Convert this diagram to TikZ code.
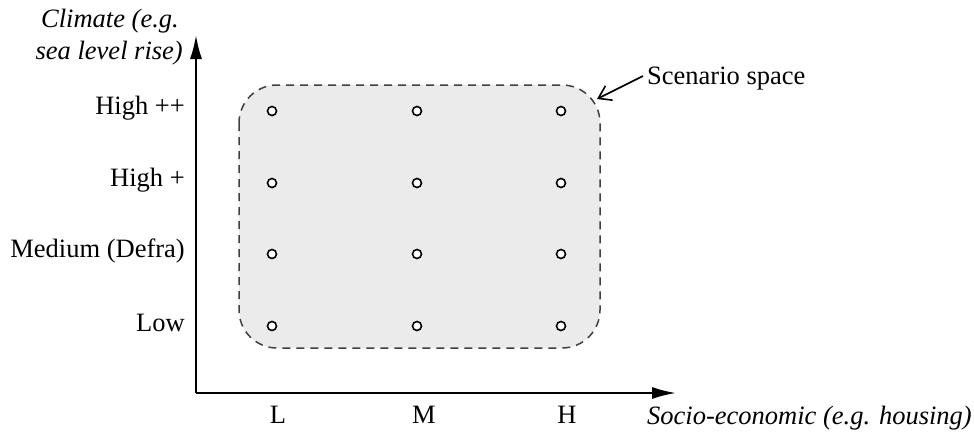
\documentclass[tikz,border=0pt]{standalone}
\usepackage{fontspec}
\setmainfont{Liberation Serif}
\usetikzlibrary{arrows.meta}
\begin{document}
\begin{tikzpicture}[x=1pt,y=-1pt,
  lbl/.style={font=\fontsize{26.5}{30}\selectfont, inner sep=0pt},
  ilbl/.style={font=\fontsize{26.5}{30}\selectfont\itshape, inner sep=0pt},
  axis/.style={line width=2pt, -{Latex[length=24pt,width=12pt]}},
  pt/.style={circle, draw, line width=1.6pt, fill=white, minimum size=9pt, inner sep=0pt},
  space/.style={draw=black!75, dash pattern=on 8pt off 6pt, line width=1.5pt, fill=black!8, rounded corners=38pt}]
\useasboundingbox (0,0) rectangle (974,432);
\coordinate (O) at (196,393);
\coordinate (Ytop) at (196,35);
\coordinate (Xend) at (676,393);
\draw[space] (239,85) rectangle (600,348);
\draw[axis] (O) -- (Ytop);
\draw[axis] (O) -- (Xend);
\foreach \x/\n in {272/L,417/M,561/H}{
  \foreach \y/\m in {111/a,183/b,254/c,326/d}{
    \node[pt] (p\n\m) at (\x,\y) {};
  }
}
\node[lbl, anchor=east] (hpp) at (185,108) {High ++};
\node[lbl, anchor=east] (hp) at (185,180) {High +};
\node[lbl, anchor=east] (med) at (185,251) {Medium (Defra)};
\node[lbl, anchor=east] (low) at (185,323) {Low};
\node[lbl] (xL) at (278,415) {L};
\node[lbl] (xM) at (424,415) {M};
\node[lbl] (xH) at (567,415) {H};
\node[ilbl, anchor=west] (xlab) at (647,418) {Socio-economic (e.g. housing)};
\node[ilbl, anchor=east] (yl1) at (179,21) {Climate (e.g.};
\node[ilbl, anchor=east] (yl2) at (183,53) {sea level rise)};
\node[lbl, anchor=west] (scen) at (647,79) {Scenario space};
\coordinate (scenTip) at (597,99);
\draw[line width=1.6pt, -{Straight Barb[length=12pt,width=16pt]}] (scen.west) ++(-4,-3) -- (scenTip);
\end{tikzpicture}
\end{document}
